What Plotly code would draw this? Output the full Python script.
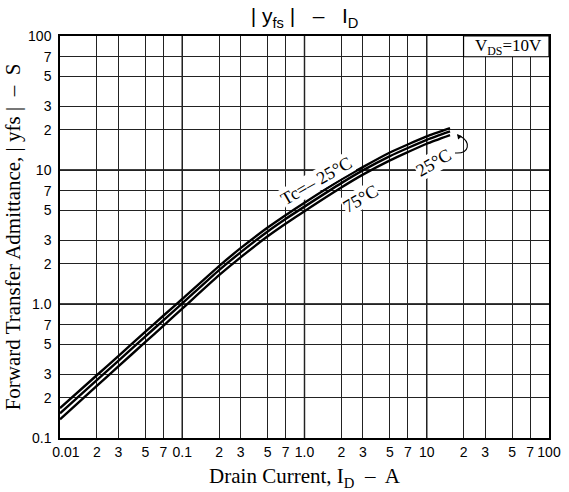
import plotly.graph_objects as go

# ---- data ----
drain_current = [0.01, 0.02, 0.03, 0.05, 0.07, 0.1, 0.2, 0.3, 0.5, 0.7, 1.0, 2, 3, 5, 7, 10, 15.5]
yfs_m25 = [0.167, 0.294, 0.409, 0.621, 0.817, 1.09, 1.92, 2.61, 3.72, 4.60, 5.70, 8.49, 10.5, 13.5, 15.5, 17.8, 20.5]
yfs_25 = [0.153, 0.270, 0.377, 0.573, 0.755, 1.01, 1.79, 2.43, 3.48, 4.31, 5.33, 7.98, 9.93, 12.7, 14.6, 16.8, 19.4]
yfs_75 = [0.138, 0.245, 0.342, 0.521, 0.687, 0.923, 1.64, 2.23, 3.20, 3.97, 4.93, 7.40, 9.23, 11.8, 13.6, 15.7, 18.2]

x_tickvals = [0.01, 0.02, 0.03, 0.05, 0.07, 0.1, 0.2, 0.3, 0.5, 0.7, 1, 2, 3, 5, 7, 10, 20, 30, 50, 70, 100]
x_ticktext = ["\u00a0\u00a0\u00a00.01", "2", "3", "5", "7", "0.1", "2", "3", "5", "7", "1.0",
              "2", "3", "5", "7", "10", "2", "3", "5", "7", "100"]
y_tickvals = [0.1, 0.2, 0.3, 0.5, 0.7, 1, 2, 3, 5, 7, 10, 20, 30, 50, 70, 100]
y_ticktext = ["0.1", "2", "3", "5", "7", "1.0", "2", "3", "5", "7", "10", "2", "3", "5", "7", "100"]
x_decades = [0.1, 1, 10]
y_decades = [1, 10]

W, H = 569, 492
ML, MR, MT, MB = 60, 20, 36, 54
PW, PH = W - ML - MR, H - MT - MB

def px2paper(px, py):
    return (px - ML) / PW, (H - MB - py) / PH

SERIF = "Liberation Serif, Times New Roman, serif"
SANS = "Liberation Sans, Arial, sans-serif"

fig = go.Figure()
for ys in (yfs_m25, yfs_25, yfs_75):
    fig.add_trace(go.Scatter(x=drain_current, y=ys, mode="lines",
                             line=dict(color="black", width=2.4, shape="spline", smoothing=0.6),
                             showlegend=False, hoverinfo="skip"))

shapes = []
for xv in x_decades:
    shapes.append(dict(type="line", xref="x", yref="paper", x0=xv, x1=xv, y0=0, y1=1,
                       line=dict(color="black", width=1.4), layer="between"))
for yv in y_decades:
    shapes.append(dict(type="line", xref="paper", yref="y", x0=0, x1=1, y0=yv, y1=yv,
                       line=dict(color="black", width=1.4), layer="between"))
# V_DS box (cell from 20 to 100 A, 70 to 100 S)
shapes.append(dict(type="rect", xref="x", yref="y", x0=20, x1=100, y0=70, y1=100,
                   fillcolor="white", line=dict(color="black", width=1.2), layer="above"))
# curved arrow from 25°C label
p0 = px2paper(455, 153); c1 = px2paper(470, 154); c2 = px2paper(471, 142); p1 = px2paper(460, 136)
shapes.append(dict(type="path", xref="paper", yref="paper",
                   path=f"M {p0[0]},{p0[1]} C {c1[0]},{c1[1]} {c2[0]},{c2[1]} {p1[0]},{p1[1]}",
                   line=dict(color="black", width=1.1), layer="above"))

annotations = []
def label(text, px, py, angle=0, size=18, bg="white"):
    xp, yp = px2paper(px, py)
    annotations.append(dict(text=text, xref="paper", yref="paper", x=xp, y=yp,
                            xanchor="center", yanchor="middle",
                            showarrow=False, textangle=angle, bgcolor=bg, borderpad=0,
                            font=dict(family=SERIF, size=size, color="black")))

label("Tc=– 25°C", 316, 181, -30)
label("75°C", 360, 199, -30)
label("25°C", 433, 163, -30)
label("V<sub>DS</sub>=10V", 508, 47, 0, 17, None)

tip = px2paper(457, 134)
annotations.append(dict(text="", xref="paper", yref="paper", x=tip[0], y=tip[1],
                        showarrow=True, arrowhead=2, arrowsize=0.9, arrowwidth=1.1,
                        ax=4, ay=5, arrowcolor="black"))

fig.update_layout(
    width=W, height=H,
    margin=dict(l=ML, r=MR, t=MT, b=MB),
    paper_bgcolor="white", plot_bgcolor="white",
    title=dict(text="| y<sub>fs</sub> |   –   I<sub>D</sub>", x=(ML + PW / 2) / W, xanchor="center",
               y=1 - 16 / H, yanchor="middle", font=dict(family=SANS, size=21, color="black")),
    shapes=shapes, annotations=annotations,
    xaxis=dict(type="log", range=[-2, 2], tickvals=x_tickvals, ticktext=x_ticktext,
               automargin=False,
               showgrid=True, gridcolor="#222", gridwidth=1, zeroline=False,
               showline=True, linecolor="black", linewidth=1.5, mirror=True, ticks="",
               tickfont=dict(family=SANS, size=14, color="black"),
               title=dict(text="Drain Current, I<sub>D</sub>  –  A", standoff=10,
                          font=dict(family=SERIF, size=21, color="black"))),
    yaxis=dict(type="log", range=[-1, 2], tickvals=y_tickvals, ticktext=y_ticktext,
               automargin=False,
               showgrid=True, gridcolor="#222", gridwidth=1, zeroline=False,
               showline=True, linecolor="black", linewidth=1.5, mirror=True, ticks="",
               ticklabelstandoff=4,
               tickfont=dict(family=SANS, size=14, color="black"),
               title=dict(text="Forward Transfer Admittance, | yfs |  –  S", standoff=2,
                          font=dict(family=SERIF, size=21, color="black"))),
)

fig.write_html("out.html")
